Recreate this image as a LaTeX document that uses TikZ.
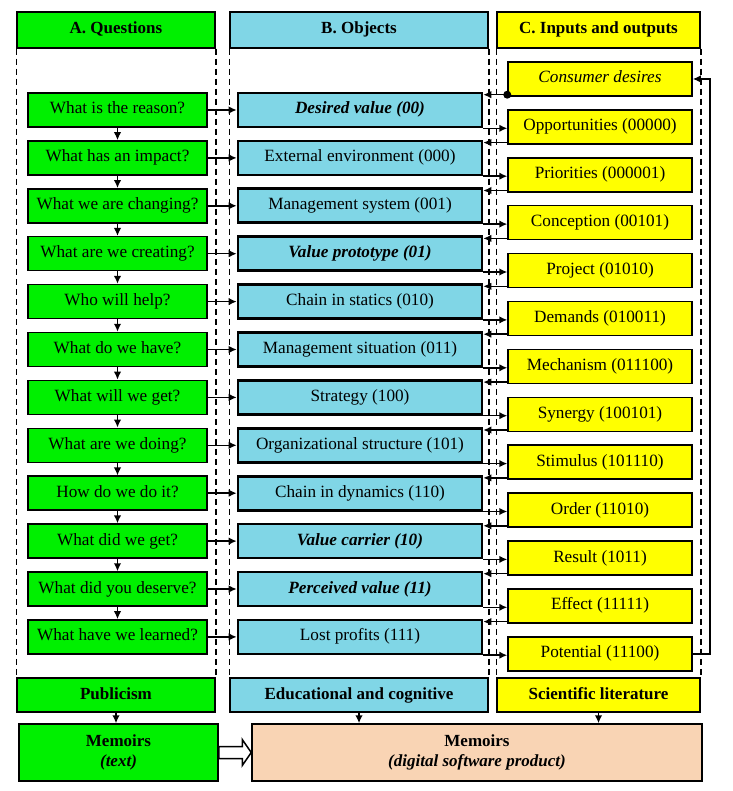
\documentclass[tikz,border=0pt]{standalone}
\usepackage{fontspec}
\setmainfont{Liberation Serif}
\usetikzlibrary{arrows.meta,calc}
\definecolor{qgreen}{RGB}{0,240,0}
\definecolor{oblue}{RGB}{128,214,230}
\definecolor{ioyel}{RGB}{255,255,0}
\definecolor{peach}{RGB}{249,212,180}
\begin{document}
\begin{tikzpicture}[x=1pt,y=-1pt,
 every node/.style={font=\fontsize{17.2}{20}\selectfont, inner sep=0pt},
 one/.style={text height=12pt, text depth=4pt},
 hdr/.style={one, draw, line width=1.5pt, minimum height=36, font=\fontsize{17}{20}\selectfont\bfseries},
 qbox/.style={one, draw, fill=qgreen, line width=1.5pt, minimum width=179, minimum height=34},
 obox/.style={one, draw, fill=oblue, line width=2.6pt, minimum width=244, minimum height=34},
 cbox/.style={one, draw, fill=ioyel, line width=1.5pt, minimum width=184, minimum height=34},
 arr/.style={line width=1.5pt, -{Latex[length=8pt,width=7.5pt]}},
 col/.style={line width=1.5pt, dash pattern=on 6pt off 4pt},
]
\fill[white] (0,0) rectangle (732,791);
\useasboundingbox (0,0) rectangle (732,791);

% headers
\node[hdr, fill=qgreen, minimum width=198] (HA) at (116,30) {A. Questions};
\node[hdr, fill=oblue, minimum width=258] (HB) at (359,30) {B. Objects};
\node[hdr, fill=ioyel, minimum width=203] (HC) at (598.5,30) {C. Inputs and outputs};

% bottom headers
\node[hdr, fill=qgreen, minimum width=198, minimum height=34] (PA) at (116,695) {Publicism};
\node[hdr, fill=oblue, minimum width=258, minimum height=34] (PB) at (359,695) {Educational and cognitive};
\node[hdr, fill=ioyel, minimum width=203, minimum height=34] (PC) at (598.5,695) {Scientific literature};

% column outlines
\foreach \h/\p in {HA/PA,HB/PB,HC/PC}{
  \draw[col] (\h.south west) -- (\p.north west);
  \draw[col] (\h.south east) -- (\p.north east);
}

% A questions
\foreach \t [count=\i from 0] in {What is the reason?, What has an impact?, What we are changing?,
  What are we creating?, Who will help?, What do we have?, What will we get?, What are we doing?,
  How do we do it?, What did we get?, What did you deserve?, What have we learned?}
  \node[qbox] (A\i) at (117.5,{110+47.9*\i}) {\t};

% B objects
\foreach \t [count=\i from 0] in {\textbf{\textit{Desired value (00)}}, External environment (000),
  Management system (001), \textbf{\textit{Value prototype (01)}}, Chain in statics (010),
  Management situation (011), Strategy (100), Organizational structure (101), Chain in dynamics (110),
  \textbf{\textit{Value carrier (10)}}, \textbf{\textit{Perceived value (11)}}, Lost profits (111)}
  \node[obox] (B\i) at (360,{110+47.9*\i}) {\t};

% C inputs/outputs
\foreach \t [count=\i from 0] in {\textit{Consumer desires}, Opportunities (00000), Priorities (000001),
  Conception (00101), Project (01010), Demands (010011), Mechanism (011100), Synergy (100101),
  Stimulus (101110), Order (11010), Result (1011), Effect (11111), Potential (11100)}
  \node[cbox] (C\i) at (600,{79+47.9*\i}) {\t};

% A chain
\foreach \i [evaluate=\i as \j using int(\i+1)] in {0,...,10}
  \draw[arr] (A\i.south) -- (A\j.north);
% A -> B
\foreach \i in {0,...,11}
  \draw[arr] (A\i.east) -- (B\i.west);
% C -> B
\foreach \i in {0,...,11}{
  \coordinate (t\i) at ($(B\i.north east)+(0,3)$);
  \draw[arr] (C\i.west |- t\i) -- (t\i);
}
\fill (C0.west |- t0) circle (4);
% B -> next C
\foreach \i [evaluate=\i as \j using int(\i+1)] in {0,...,11}
  \draw[arr] (B\i.south east) -- (B\i.south east -| C\j.west);
% feedback
\draw[arr] (C12.east) -- ++(17,0) |- (C0.east);

% memoirs
\node[draw, fill=qgreen, line width=1.5pt, minimum width=199, minimum height=57, align=center,
  font=\fontsize{17}{20}\selectfont\bfseries] (M1) at (118.5,752.5) {Memoirs\\\textit{(text)}};
\node[draw, fill=peach, line width=1.5pt, minimum width=450, minimum height=57, align=center,
  font=\fontsize{17}{20}\selectfont\bfseries] (M2) at (477,752.5) {Memoirs\\\textit{(digital software product)}};

\draw[arr] (PA.south) -- (PA.south |- M1.north);
\draw[arr] (PB.south) -- (PB.south |- M2.north);
\draw[arr] (PC.south) -- (PC.south |- M2.north);

% hollow arrow
\draw[fill=white, line width=1.5pt, line join=miter]
  ($(M1.east)+(0,-6)$) -- ($(M2.west)+(-9,-6)$) -- ($(M2.west)+(-9,-13)$) -- (M2.west)
  -- ($(M2.west)+(-9,13)$) -- ($(M2.west)+(-9,6)$) -- ($(M1.east)+(0,6)$) -- cycle;
\end{tikzpicture}
\end{document}
